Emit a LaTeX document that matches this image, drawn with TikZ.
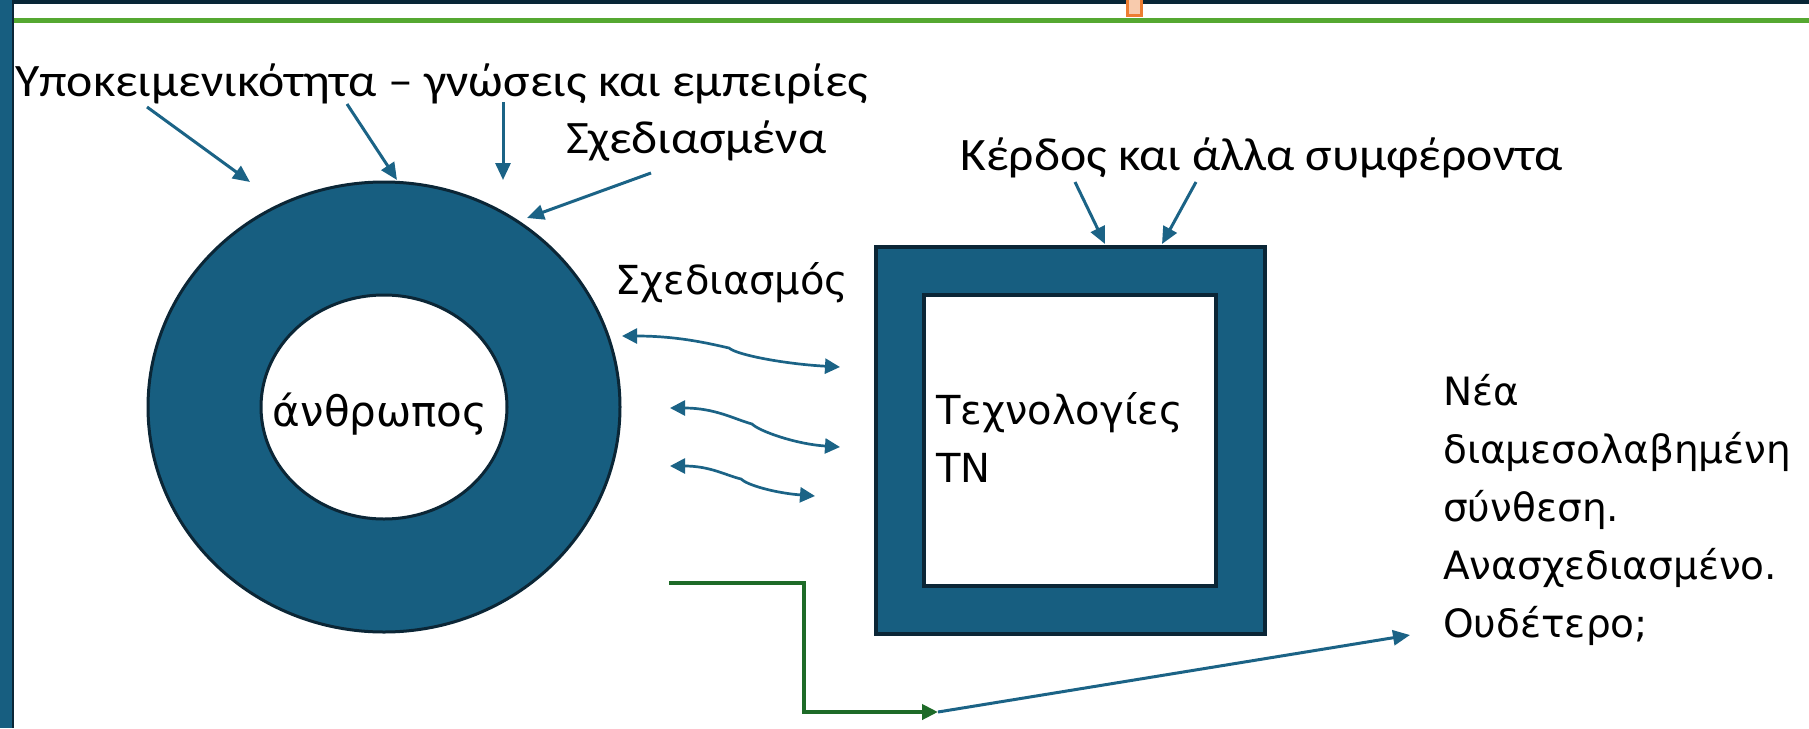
\documentclass[tikz,border=0pt]{standalone}
\usepackage{fontspec}
\setmainfont{DejaVu Sans}
\newfontfamily\narrowfont[FakeStretch=1.07]{Carlito}
\usepackage{tikz}
\usetikzlibrary{shapes,arrows.meta,calc}

\definecolor{ringfill}{RGB}{23,94,128}
\definecolor{ringedge}{RGB}{11,38,54}
\definecolor{arrowblue}{RGB}{27,99,134}
\definecolor{elbowgreen}{RGB}{30,107,40}
\definecolor{topgreen}{RGB}{85,168,49}
\definecolor{topband}{RGB}{8,38,54}
\definecolor{handleorange}{RGB}{237,125,49}
\definecolor{handlepeach}{RGB}{248,203,173}

\begin{document}
\begin{tikzpicture}[x=1pt,y=-1pt]
    \tikzstyle{ring}=[draw=ringedge,line width=3pt,fill=ringfill,inner sep=0pt]
    \tikzstyle{hole}=[draw=ringedge,line width=3pt,fill=white,inner sep=0pt]
    \tikzstyle{narrow}=[
      anchor=base west,
      inner sep=0pt,
      font=\narrowfont\fontsize{46.5}{50}\selectfont,
    ]
    \tikzstyle{plain}=[
      anchor=base west,
      inner sep=0pt,
      align=left,
      font=\fontsize{40}{58}\selectfont,
    ]
    \tikzstyle{pedge}=[line width=3pt,-{Triangle[length=17pt,width=15pt]},draw=arrowblue]
    \tikzstyle{dedge}=[line width=2.7pt,{Triangle[length=15pt,width=15pt]}-{Triangle[length=15pt,width=15pt]},draw=arrowblue]
    \tikzstyle{gedge}=[line width=4pt,-{Triangle[length=16pt,width=15pt]},draw=elbowgreen]

    \useasboundingbox (0,0) rectangle (1809,728);

    % slide frame
    \fill[topband] (0,0) rectangle (1809,3.5);
    \fill[ringfill] (0,0) rectangle (12.5,728);
    \draw[ringedge,line width=2pt] (13,0) -- (13,728);
    \fill[topgreen] (14,18) rectangle (1809,22.5);
    \draw[draw=handleorange,fill=handlepeach,line width=3pt] (1127,-3) rectangle (1141,15);

    % shapes
    \node[ring,ellipse,minimum width=472pt,minimum height=450pt] (ring) at (384,407) {};
    \node[hole,ellipse,minimum width=246pt,minimum height=224pt] (hole) at (384,407) {};
    \node[ring,line width=4pt,minimum width=389pt,minimum height=387pt] (tech frame) at (1070,440) {};
    \node[hole,line width=4pt,minimum width=292pt,minimum height=291pt] (tech core) at (1070,440) {};

    % labels
    \node[narrow] (subject label) at (15,96) {Υποκειμενικότητα – γνώσεις και εμπειρίες};
    \node[narrow] (planned label) at (566,153) {Σχεδιασμένα};
    \node[narrow] (profit label) at (960,170) {Κέρδος και άλλα συμφέροντα};
    \node[plain] (design label) at (615,294) {Σχεδιασμός};
    \node[plain,font=\fontsize{42}{58}\selectfont,anchor=base] (human label) at (380,426) {άνθρωπος};
    \node[plain] (tech label) at (936,482) {Τεχνολογίες\\ΤΝ};
    \node[plain,font=\fontsize{39}{58}\selectfont] (result label) at (1443,637) {Νέα\\διαμεσολαβημένη\\σύνθεση.\\Ανασχεδιασμένο.\\Ουδέτερο;};

    % arrow ends
    \coordinate (s1 tail) at (147,107);
    \coordinate (s1 tip) at (250,182);
    \coordinate (s2 tail) at (347,104);
    \coordinate (s2 tip) at (397,180);
    \coordinate (s3 tail) at (503,102);
    \coordinate (s3 tip) at (503,180);
    \coordinate (s4 tail) at (651,173);
    \coordinate (s4 tip) at (527,218);
    \coordinate (k1 tail) at (1075,182);
    \coordinate (k1 tip) at (1105,244);
    \coordinate (k2 tail) at (1196,182);
    \coordinate (k2 tip) at (1162,244);
    \coordinate (a left) at (622,336);
    \coordinate (a kink) at (729,348);
    \coordinate (a right) at (840,367);
    \coordinate (b left) at (670,408);
    \coordinate (b kink) at (752,424);
    \coordinate (b right) at (840,447);
    \coordinate (c left) at (670,466);
    \coordinate (c kink) at (741,479);
    \coordinate (c right) at (815,496);
    \coordinate (elbow start) at (669,583);
    \coordinate (merge) at (938,712);
    \coordinate (outcome) at (1410,635);

    \draw[pedge] (s1 tail)--(s1 tip);
    \draw[pedge] (s2 tail)--(s2 tip);
    \draw[pedge] (s3 tail)--(s3 tip);
    \draw[pedge] (s4 tail)--(s4 tip);
    \draw[pedge] (k1 tail)--(k1 tip);
    \draw[pedge] (k2 tail)--(k2 tip);

    \draw[dedge] (a left) .. controls +(55,0) and +(-22,-5) .. (a kink) .. controls +(8,7) and +(-55,-3) .. (a right);
    \draw[dedge] (b left) .. controls +(45,0) and +(-18,-5) .. (b kink) .. controls +(7,7) and +(-45,-3) .. (b right);
    \draw[dedge] (c left) .. controls +(40,0) and +(-16,-4) .. (c kink) .. controls +(6,6) and +(-40,-3) .. (c right);

    \draw[gedge] (elbow start) -| ([xshift=-134pt]merge) -- (merge);
    \draw[pedge] (merge)--(outcome);
  \end{tikzpicture}
\end{document}
